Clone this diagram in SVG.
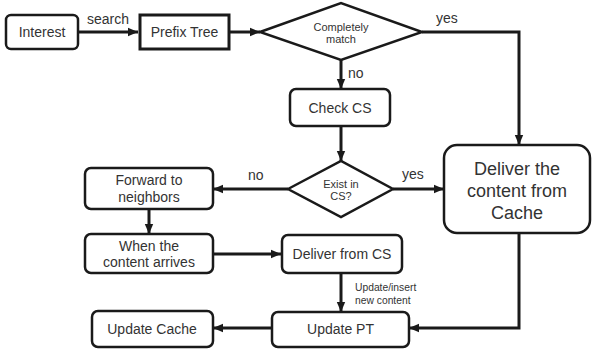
<svg xmlns="http://www.w3.org/2000/svg" width="592" height="351" viewBox="0 0 592 351">
<style>
  .box{fill:#fff;stroke:#1a1a1a;stroke-width:2.5}
  .t{font-family:"Liberation Sans",Arial,sans-serif;font-size:14px;fill:#333;text-anchor:middle}
  .s{font-family:"Liberation Sans",Arial,sans-serif;font-size:11px;fill:#333;text-anchor:middle}
  .l{font-family:"Liberation Sans",Arial,sans-serif;font-size:14px;fill:#333}
  .c{fill:none;stroke:#1a1a1a;stroke-width:3}
</style>
<defs>
  <marker id="ah" markerUnits="userSpaceOnUse" markerWidth="10" markerHeight="10" viewBox="0 0 10 10" refX="10" refY="5" orient="auto">
    <path d="M0,0.8 L10,5 L0,9.2 Z" fill="#1a1a1a"/>
  </marker>
</defs>
<rect width="592" height="351" fill="#fff"/>
<g id="connectors">
  <path class="c" d="M78,32 H138" marker-end="url(#ah)"/>
  <path class="c" d="M229,32 H260" marker-end="url(#ah)"/>
  <path class="c" d="M422,32 H519 V145" marker-end="url(#ah)"/>
  <path class="c" d="M341,60 V89" marker-end="url(#ah)"/>
  <path class="c" d="M341,126 V161" marker-end="url(#ah)"/>
  <path class="c" d="M393,189 H444" marker-end="url(#ah)"/>
  <path class="c" d="M288,189 H213" marker-end="url(#ah)"/>
  <path class="c" d="M149,209 V234" marker-end="url(#ah)"/>
  <path class="c" d="M213,254 H281" marker-end="url(#ah)"/>
  <path class="c" d="M341,273 V312" marker-end="url(#ah)"/>
  <path class="c" d="M519,233 V328 H409" marker-end="url(#ah)"/>
  <path class="c" d="M272,328 H213" marker-end="url(#ah)"/>
  <text class="l" x="87" y="24">search</text>
  <text class="l" x="436" y="23">yes</text>
  <text class="l" x="348" y="78">no</text>
  <text class="l" x="402" y="179">yes</text>
  <text class="l" x="248" y="180">no</text>
  <text class="l" x="355" y="291" style="font-size:10.3px">Update/insert</text>
  <text class="l" x="355" y="303.5" style="font-size:10.3px">new content</text>
</g>
<g id="interest">
  <rect class="box" x="6" y="15" width="72" height="34" rx="5"/>
  <text class="t" x="42" y="37">Interest</text>
</g>
<g id="prefix-tree">
  <rect class="box" x="140" y="15" width="89" height="34" style="stroke-width:3"/>
  <text class="t" x="184.5" y="37">Prefix Tree</text>
</g>
<g id="completely-match">
  <polygon class="box" points="260,32 341,3 422,32 341,60"/>
  <text class="s" x="341" y="31">Completely</text>
  <text class="s" x="341" y="43">match</text>
</g>
<g id="check-cs">
  <rect class="box" x="290" y="89" width="100" height="37" rx="6"/>
  <text class="t" x="340" y="113">Check CS</text>
</g>
<g id="exist-in-cs">
  <polygon class="box" points="288,189 341,161 393,189 341,217"/>
  <text class="s" x="341" y="188">Exist in</text>
  <text class="s" x="341" y="200">CS?</text>
</g>
<g id="deliver-cache">
  <rect class="box" x="444" y="145" width="146" height="88" rx="13"/>
  <text class="t" x="517" y="175" style="font-size:18px">Deliver the</text>
  <text class="t" x="517" y="197" style="font-size:18px">content from</text>
  <text class="t" x="517" y="219" style="font-size:18px">Cache</text>
</g>
<g id="forward">
  <rect class="box" x="85" y="168" width="128" height="41" rx="6"/>
  <text class="t" x="149" y="185">Forward to</text>
  <text class="t" x="149" y="202">neighbors</text>
</g>
<g id="when-content">
  <rect class="box" x="85" y="234" width="128" height="39" rx="6"/>
  <text class="t" x="149" y="251">When the</text>
  <text class="t" x="149" y="267">content arrives</text>
</g>
<g id="deliver-cs">
  <rect class="box" x="282" y="235" width="120" height="38" rx="6"/>
  <text class="t" x="342" y="259">Deliver from CS</text>
</g>
<g id="update-pt">
  <rect class="box" x="272" y="312" width="137" height="35" rx="6"/>
  <text class="t" x="340.5" y="334">Update PT</text>
</g>
<g id="update-cache">
  <rect class="box" x="92" y="311" width="121" height="36" rx="6"/>
  <text class="t" x="152" y="334">Update Cache</text>
</g>
</svg>
